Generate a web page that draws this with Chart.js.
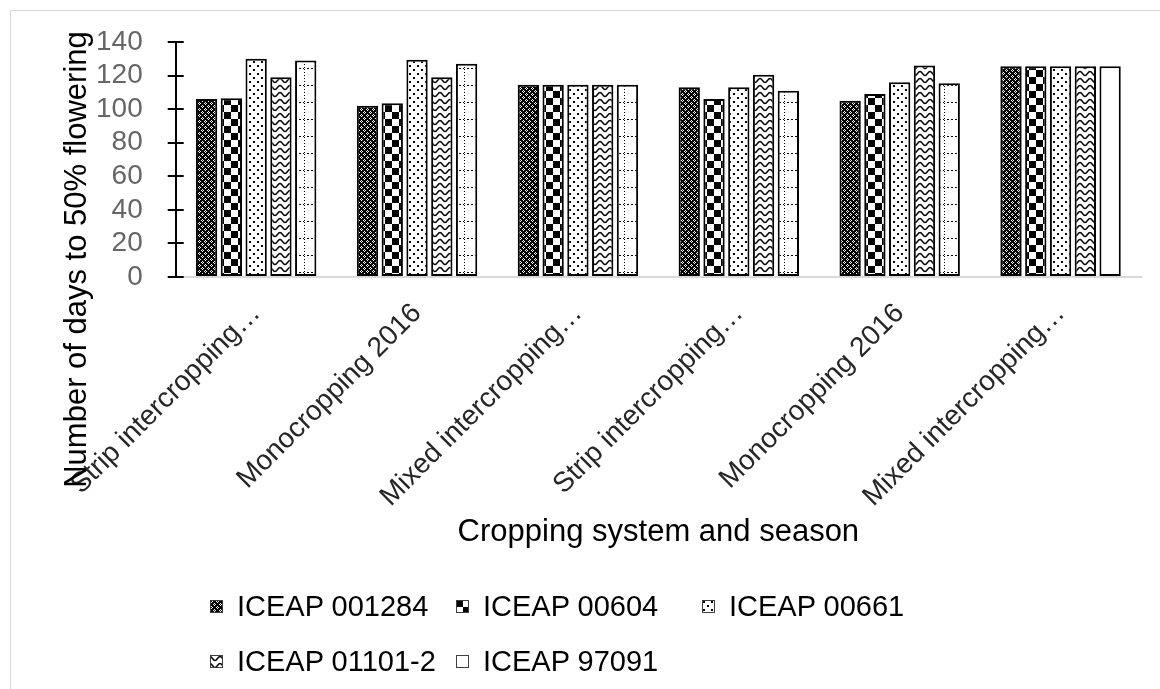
<!DOCTYPE html>
<html lang="en">
<head>
<meta charset="UTF-8">
<title>Number of days to 50% flowering</title>
<style>
  body { margin: 0; background: #fff; font-family: "Liberation Sans", Arial, sans-serif; }
  #wrap { position: relative; width: 1160px; height: 689px; overflow: hidden; }
  #frame { position: absolute; left: 10px; top: 10px; width: 1160px; height: 700px; border-left: 1px solid #d9d9d9; border-top: 1px solid #d9d9d9; }
  #chart-box { position: absolute; left: 0; top: 0; width: 1160px; height: 689px; }
  #legend { position: absolute; left: 210px; top: 590px; display: grid; grid-template-columns: 246px 246px 246px; row-gap: 22px; font-size: 29px; color: #000; }
  .item { display: flex; align-items: center; height: 33px; white-space: nowrap; }
  .item canvas { width: 13px; height: 13px; margin-right: 14px; }
</style>
</head>
<body>
<div id="wrap">
  <div id="frame"></div>
  <div id="chart-box"><canvas id="chart"></canvas></div>
  <div id="legend"></div>
</div>

<script src="https://cdn.jsdelivr.net/npm/chart.js"></script>
<script>
  const categories = ['Strip intercropping…', 'Monocropping 2016', 'Mixed intercropping…', 'Strip intercropping…', 'Monocropping 2016', 'Mixed intercropping…'];
  const seriesNames = ['ICEAP 001284', 'ICEAP 00604', 'ICEAP 00661', 'ICEAP 01101-2', 'ICEAP 97091'];
  const iceap001284 = [106, 102, 114.5, 113, 105, 125.5];
  const iceap00604 = [106.5, 103.5, 114.5, 106, 109, 125.5];
  const iceap00661 = [130, 129.5, 114.5, 113, 116, 125.5];
  const iceap01101 = [119, 119, 114.5, 120.5, 126, 125.5];
  const iceap97091 = [129, 127, 114.5, 111, 115.5, 125.5];
  const yMin = 0, yMax = 140, yStep = 20;

  const FONT = '"Liberation Sans", Arial, sans-serif';

  // small black & white tiles used as bar fills
  function tile(w, h, draw) {
    const c = document.createElement('canvas');
    c.width = w; c.height = h;
    const g = c.getContext('2d');
    g.fillStyle = '#fff';
    g.fillRect(0, 0, w, h);
    g.fillStyle = '#000';
    g.strokeStyle = '#000';
    draw(g, w, h);
    return c;
  }

  const tiles = [
    // dense dark lattice
    tile(6, 6, g => {
      g.fillRect(0, 0, 6, 6);
      g.fillStyle = '#fff';
      [[1, 0], [0, 1], [2, 1], [1, 2], [4, 3], [3, 4], [5, 4], [4, 5]].forEach(([x, y]) => g.fillRect(x, y, 1, 1));
    }),
    // large checkerboard
    tile(14, 14, g => {
      g.fillRect(0, 0, 7, 7);
      g.fillRect(7, 7, 7, 7);
    }),
    // sparse dots
    tile(8, 8, g => {
      g.fillRect(1, 1, 2, 2);
      g.fillRect(5, 5, 2, 2);
    }),
    // waves
    tile(10, 7, (g, w) => {
      g.lineWidth = 1.5;
      g.beginPath();
      for (let x = 0; x <= w; x += 0.5) {
        const y = 3.5 - 2 * Math.cos(2 * Math.PI * x / w);
        if (x === 0) g.moveTo(x, y); else g.lineTo(x, y);
      }
      g.stroke();
    }),
    // dashed grid
    tile(16, 17, g => {
      for (let x = 3; x < 16; x += 4) g.fillRect(x, 0, 2, 1);
      for (let y = 1; y < 17; y += 3) g.fillRect(0, y, 1, 1);
    })
  ];

  const ctx = document.getElementById('chart').getContext('2d');
  const fills = tiles.map(t => ctx.createPattern(t, 'repeat'));

  // last bar of the last series is left plain
  const lastFill = categories.map((c, i) => i === categories.length - 1 ? '#fff' : fills[4]);

  const seriesData = [iceap001284, iceap00604, iceap00661, iceap01101, iceap97091];
  const datasets = seriesNames.map((name, i) => ({
    label: name,
    data: seriesData[i],
    backgroundColor: i === 4 ? lastFill : fills[i],
    borderColor: '#000',
    borderWidth: 2,
    borderSkipped: false,
    categoryPercentage: 0.77,
    barPercentage: 0.86
  }));

  // crossing tick marks on the value axis, plus both axis titles
  const axisExtras = {
    id: 'axisExtras',
    afterDraw(chart) {
      const { ctx, chartArea, scales } = chart;
      const y = scales.y;
      ctx.save();
      ctx.strokeStyle = '#000';
      ctx.lineWidth = 2;
      y.ticks.forEach(t => {
        const py = Math.round(y.getPixelForValue(t.value));
        ctx.beginPath();
        ctx.moveTo(chartArea.left, py);
        ctx.lineTo(chartArea.left + 8, py);
        ctx.stroke();
      });
      ctx.font = '31px ' + FONT;
      ctx.fillStyle = '#000';
      ctx.textAlign = 'center';
      ctx.textBaseline = 'middle';
      ctx.fillText('Cropping system and season', (chartArea.left + chartArea.right) / 2, chartArea.bottom + 255);
      ctx.translate(chartArea.left - 98, (chartArea.top + chartArea.bottom) / 2 + 100);
      ctx.rotate(-Math.PI / 2);
      ctx.fillText('Number of days to 50% flowering', 0, 0);
      ctx.restore();
    }
  };

  new Chart(ctx, {
    type: 'bar',
    data: { labels: categories, datasets },
    options: {
      responsive: true,
      maintainAspectRatio: false,
      animation: false,
      layout: { padding: { left: 71, right: 19, top: 42, bottom: 180 } },
      plugins: {
        legend: { display: false },
        tooltip: { enabled: false }
      },
      scales: {
        x: {
          afterFit(scale) { scale.height = 232; },
          grid: { display: false, drawTicks: false },
          border: { display: true, color: '#d9d9d9', width: 2 },
          ticks: {
            color: '#262626',
            font: { family: FONT, size: 28 },
            maxRotation: 45,
            minRotation: 45,
            autoSkip: false,
            padding: 20
          }
        },
        y: {
          min: yMin,
          max: yMax,
          grid: { display: true, drawOnChartArea: false, color: '#000', lineWidth: 2, tickLength: 8 },
          border: { display: true, color: '#000', width: 2 },
          ticks: {
            stepSize: yStep,
            autoSkip: false,
            color: '#666',
            font: { family: FONT, size: 28 },
            padding: 25
          }
        }
      }
    },
    plugins: [axisExtras]
  });

  // legend laid out in fixed columns
  const legend = document.getElementById('legend');
  seriesNames.forEach((name, i) => {
    const item = document.createElement('div');
    item.className = 'item';
    const box = document.createElement('canvas');
    box.width = 13; box.height = 13;
    const b = box.getContext('2d');
    b.fillStyle = b.createPattern(tiles[i], 'repeat');
    b.fillRect(0, 0, 13, 13);
    b.strokeStyle = '#404040';
    b.lineWidth = 1;
    b.strokeRect(0.5, 0.5, 12, 12);
    item.appendChild(box);
    item.appendChild(document.createTextNode(name));
    legend.appendChild(item);
  });
</script>
</body>
</html>
